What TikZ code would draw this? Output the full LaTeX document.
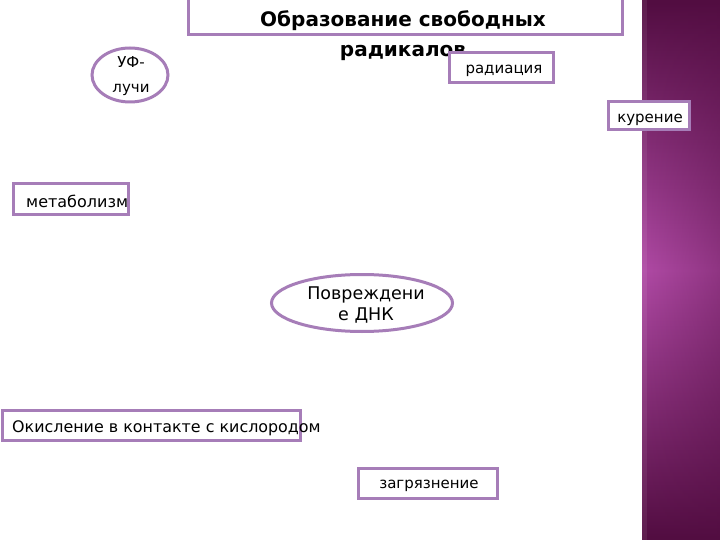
\documentclass[tikz,border=0pt]{standalone}
\usepackage{fontspec}
\setmainfont{DejaVu Sans}
\usetikzlibrary{shapes.geometric,fadings}
\definecolor{frame}{HTML}{A67DB8}
\definecolor{plumdark}{HTML}{520D41}
\definecolor{plummid}{HTML}{B04AA5}
\tikzset{
  boxshape/.style={draw=frame, line width=3pt, fill=white, inner sep=0pt},
  ovalshape/.style={ellipse, draw=frame, line width=3pt, fill=white, inner sep=0pt},
  lbl/.style={inner sep=0pt, font=\fontsize{15}{18}\selectfont, text=black, align=center},
  ttl/.style={inner sep=0pt, font=\fontsize{20}{30}\selectfont\bfseries, text=black, align=center}
}
\begin{document}
\begin{tikzpicture}[x=1pt,y=-1pt]
\useasboundingbox (0,0) rectangle (720,540);
\fill[white] (0,0) rectangle (720,540);
% purple strip
\shade[top color=plumdark, bottom color=plummid] (642,0) rectangle (720,270.5);
\shade[top color=plummid, bottom color=plumdark] (642,270) rectangle (720,540);
\fill[plumdark, path fading=west, opacity=0.35] (642,0) rectangle (720,540);
\fill[white, opacity=0.07] (642,0) rectangle (647,540);

% title
\node[boxshape, minimum width=434pt, minimum height=36pt] (titlebox) at (405,17) {};
\node[ttl] (title) at (403,36) {Образование свободных\\радикалов};

% UF
\node[ovalshape, minimum width=76pt, minimum height=54pt] (uf) at (130,75) {};
\node[lbl, font=\fontsize{15}{25}\selectfont] (uftext) at (131,76) {УФ-\\лучи};

% radiation
\node[boxshape, minimum width=104pt, minimum height=30pt] (radbox) at (501,68) {};
\node[lbl] (radtext) at (504,71) {радиация};

% smoking
\node[boxshape, minimum width=81pt, minimum height=28pt] (kurbox) at (648.5,116) {};
\node[lbl] (kurtext) at (650,120) {курение};

% metabolism
\node[boxshape, minimum width=115pt, minimum height=31pt] (metbox) at (70.5,199.5) {};
\node[lbl, anchor=west, font=\fontsize{16}{18}\selectfont] (mettext) at (26,201) {метаболизм};

% DNA damage
\node[ovalshape, minimum width=181pt, minimum height=57pt] (dna) at (362,303) {};
\node[lbl, font=\fontsize{17.5}{21}\selectfont] (dnatext) at (366,305) {Повреждени\\е ДНК};

% oxidation
\node[boxshape, minimum width=298pt, minimum height=30pt] (oxbox) at (151,425) {};
\node[lbl, anchor=west, font=\fontsize{15.9}{18}\selectfont] (oxtext) at (12,428) {Окисление в контакте с кислородом};

% pollution
\node[boxshape, minimum width=139pt, minimum height=30pt] (polbox) at (427.5,483) {};
\node[lbl] (poltext) at (429,486) {загрязнение};
\end{tikzpicture}
\end{document}
